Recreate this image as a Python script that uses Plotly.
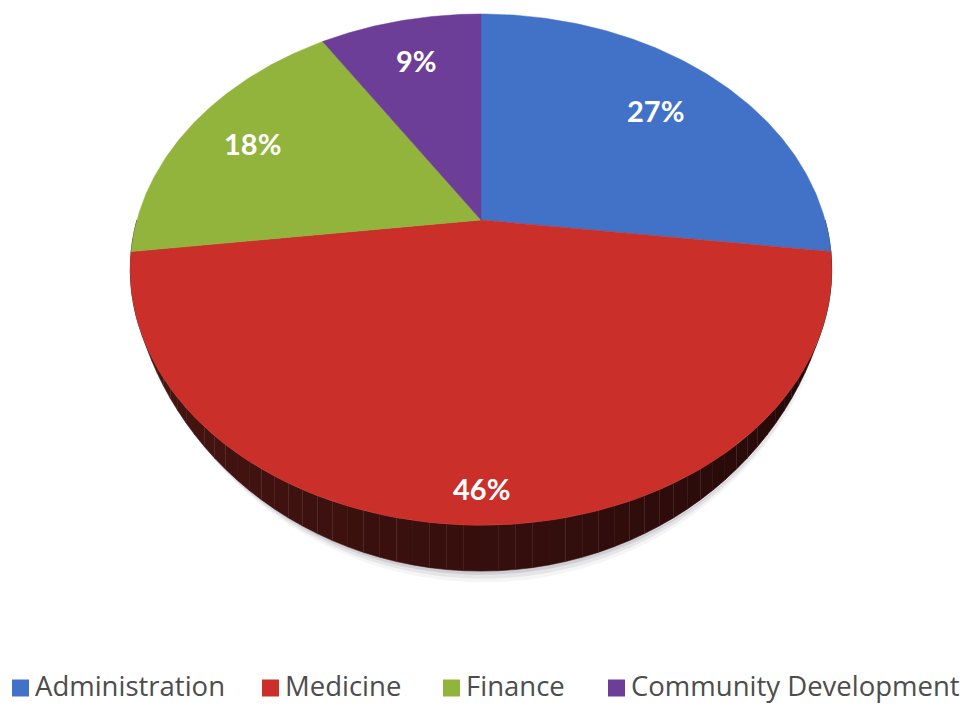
import numpy as np
import plotly.graph_objects as go

# Budget shares by department (percent)
categories = ["Administration", "Medicine", "Finance", "Community Development"]
shares = [27, 46, 18, 9]

# Face colours and label placement (fraction of radius) for each slice
face_colors = ["#4272c8", "#cb2f29", "#92b43c", "#6c3e98"]
label_radius = [0.74, 0.9, 0.78, 0.77]

# Legend row: left edge of each swatch (px) and the row's centre line
legend_slots = [12, 262, 443, 608]
LEGEND_Y = 688

# Perspective disc geometry in page pixels
CX, CY = 481, 220      # projected centre of the disc
RX, RY = 344, 246      # horizontal / depth radius
K = 0.194              # perspective strength
THICK = 37             # wall height at the front
TAPER = 0.45           # wall fades out towards the left/right extremes
W, HGT = 966, 705


def proj(theta, r=1.0, drop=0.0):
    """Project a point on the tilted disc (theta clockwise from 12 o'clock)."""
    u = r * np.sin(theta)
    v = r * np.cos(theta)
    s = 1.0 / (1.0 + K * v)
    return CX + RX * u * s, CY - RY * v * s + drop * s


def wall(theta, extra=0.0):
    """Height of the visible rim wall at a given angle."""
    f = np.clip((-np.cos(theta) - TAPER) / (1 - TAPER), 0, 1) ** 1.1
    return (THICK + extra) * f


def mix(c1, c2, t):
    a = [int(c1[i:i + 2], 16) for i in (1, 3, 5)]
    b = [int(c2[i:i + 2], 16) for i in (1, 3, 5)]
    return "rgb({},{},{})".format(*[round(x + (y - x) * t) for x, y in zip(a, b)])


fig = go.Figure()

total = float(sum(shares))
bounds = np.concatenate([[0.0], np.cumsum(shares) / total * 2 * np.pi])

# Soft shadow under the front rim
front = np.linspace(np.pi / 2, 3 * np.pi / 2, 240)
for off, alpha in [(9, 0.06), (6, 0.10), (3, 0.16)]:
    xb, yb = proj(front, drop=wall(front))
    xs, ys = proj(front, drop=wall(front, off))
    fig.add_trace(go.Scatter(
        x=np.concatenate([xb, xs[::-1]]) + off * 0.3,
        y=np.concatenate([yb, ys[::-1]]),
        fill="toself", mode="lines", line=dict(width=0),
        fillcolor=f"rgba(90,90,110,{alpha})",
        hoverinfo="skip", showlegend=False))

# Side wall of each slice, shaded from dark (right) to lighter (left)
for i in range(len(shares)):
    a0, a1 = bounds[i], bounds[i + 1]
    lo, hi = max(a0, np.pi / 2), min(a1, 3 * np.pi / 2)
    if hi <= lo:
        continue
    edges = np.linspace(lo, hi, max(2, int((hi - lo) / 0.04) + 1))
    for j in range(len(edges) - 1):
        t = np.linspace(edges[j], edges[j + 1], 4)
        xt, yt = proj(t)
        xb, yb = proj(t[::-1], drop=wall(t[::-1]))
        frac = (edges[j] - np.pi / 2) / np.pi
        if i == 1:
            col = mix("#1a0606", "#521814", min(max(frac, 0), 1))
        else:
            col = mix(face_colors[i], "#000000", 0.8)
        fig.add_trace(go.Scatter(
            x=np.concatenate([xt, xb]), y=np.concatenate([yt, yb]),
            fill="toself", mode="lines", line=dict(width=0.6, color=col),
            fillcolor=col, hoverinfo="skip", showlegend=False))

# Top faces of the slices
for i, name in enumerate(categories):
    t = np.linspace(bounds[i], bounds[i + 1], 120)
    xa, ya = proj(t)
    fig.add_trace(go.Scatter(
        x=np.concatenate([[CX], xa, [CX]]),
        y=np.concatenate([[CY], ya, [CY]]),
        fill="toself", mode="lines",
        line=dict(width=0.5, color=face_colors[i]),
        fillcolor=face_colors[i], name=name,
        hovertemplate=f"{name}: {shares[i]}%<extra></extra>",
        showlegend=False))

# Percentage labels
for i, s in enumerate(shares):
    mid = (bounds[i] + bounds[i + 1]) / 2
    lx, ly = proj(mid, r=label_radius[i])
    fig.add_annotation(x=lx, y=ly, text=f"<b>{s}%</b>", showarrow=False,
                       font=dict(family="Lato", size=29, color="white"))

# Legend row: colour swatches and category names
SW = 17
fig.add_trace(go.Scatter(
    x=[x0 + SW / 2 for x0 in legend_slots], y=[LEGEND_Y] * len(categories),
    mode="markers", hoverinfo="skip", showlegend=False,
    marker=dict(symbol="square", size=SW, color=face_colors,
                line=dict(width=0))))
for x0, name in zip(legend_slots, categories):
    fig.add_annotation(x=x0 + SW + 5, y=LEGEND_Y - 3, text=name,
                       showarrow=False, xanchor="left", yanchor="middle",
                       borderpad=0,
                       font=dict(family="Open Sans", size=27.5,
                                 color="#4d4d4d"))

fig.update_layout(
    width=W, height=HGT,
    margin=dict(l=0, r=0, t=0, b=0),
    paper_bgcolor="white", plot_bgcolor="white",
    xaxis=dict(range=[0, W], visible=False, fixedrange=True),
    yaxis=dict(range=[HGT, 0], visible=False, fixedrange=True),
    showlegend=False,
)

fig.write_html("out.html")
